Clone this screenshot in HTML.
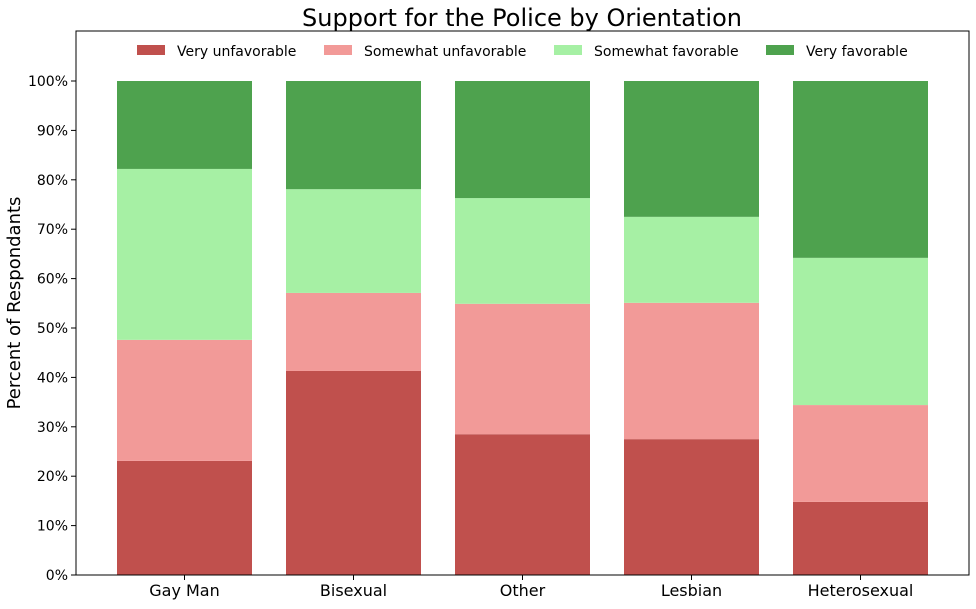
<!DOCTYPE html>
<html><head><meta charset="utf-8"><style>
body{margin:0;background:#fff;}
svg{font-family:"DejaVu Sans","Liberation Sans",sans-serif;}
</style></head><body>
<svg id="chart" width="976" height="604">
<text x="522" y="26" text-anchor="middle" font-size="24">Support for the Police by Orientation</text>
<text transform="translate(20,303) rotate(-90)" text-anchor="middle" font-size="18">Percent of Respondants</text>
<g id="bars"></g><g id="axes"></g><g id="legend"></g>
</svg>
<script>
const categories = ["Gay Man","Bisexual","Other","Lesbian","Heterosexual"];
const veryUnfav = [23.1, 41.3, 28.5, 27.5, 14.8];
const somewhatUnfav = [24.5, 15.8, 26.4, 27.6, 19.6];
const somewhatFav = [34.6, 21.0, 21.4, 17.4, 29.8];
const veryFav = [17.8, 21.9, 23.7, 27.5, 35.8];
const yTicks = [0,10,20,30,40,50,60,70,80,90,100];
const seriesNames = ["Very unfavorable","Somewhat unfavorable","Somewhat favorable","Very favorable"];

const NS="http://www.w3.org/2000/svg";
const L=76,R=969,T=31,B=575;
const y=v=>B-(v/100)*(B-81);
const band=169, bw=135;
const xc=i=>184.5+i*band;
const colors=["#c0504d","#f29a98","#a6f0a4","#4ea24e"];
const series=[veryUnfav,somewhatUnfav,somewhatFav,veryFav];
function mk(t,a,p){const e=document.createElementNS(NS,t);for(const k in a)e.setAttribute(k,a[k]);p.appendChild(e);return e;}
const gb=document.getElementById('bars'),ga=document.getElementById('axes'),gl=document.getElementById('legend');
categories.forEach((c,i)=>{
  let base=0;
  series.forEach((s,j)=>{
    const r=mk('rect',{x:xc(i)-bw/2,y:y(base+s[i]),width:bw,height:y(base)-y(base+s[i]),fill:colors[j]},gb);
    
    
    base+=s[i];
  });
  mk('line',{x1:xc(i),x2:xc(i),y1:B,y2:B+5,stroke:'#000'},ga);
  const t=mk('text',{x:xc(i),y:B+21,'text-anchor':'middle','font-size':16},ga);
  t.textContent=c;
  
  
});
yTicks.forEach(v=>{
  mk('line',{x1:L-5,x2:L,y1:y(v),y2:y(v),stroke:'#000'},ga);
  const t=mk('text',{x:L-8,y:y(v)+5,'text-anchor':'end','font-size':14},ga);
  t.textContent=v+'%';
  
  
});
mk('rect',{x:L,y:T,width:R-L,height:B-T,fill:'none',stroke:'#000','stroke-width':1},ga);
const lx=[137,324,554,766];
seriesNames.forEach((n,j)=>{
  const g=mk('g',{},gl);
  
  
  mk('rect',{x:lx[j],y:45,width:28,height:10,fill:colors[j]},g);
  const t=mk('text',{x:lx[j]+40,y:56,'font-size':14},g);
  t.textContent=n;
});
</script>
</body></html>
